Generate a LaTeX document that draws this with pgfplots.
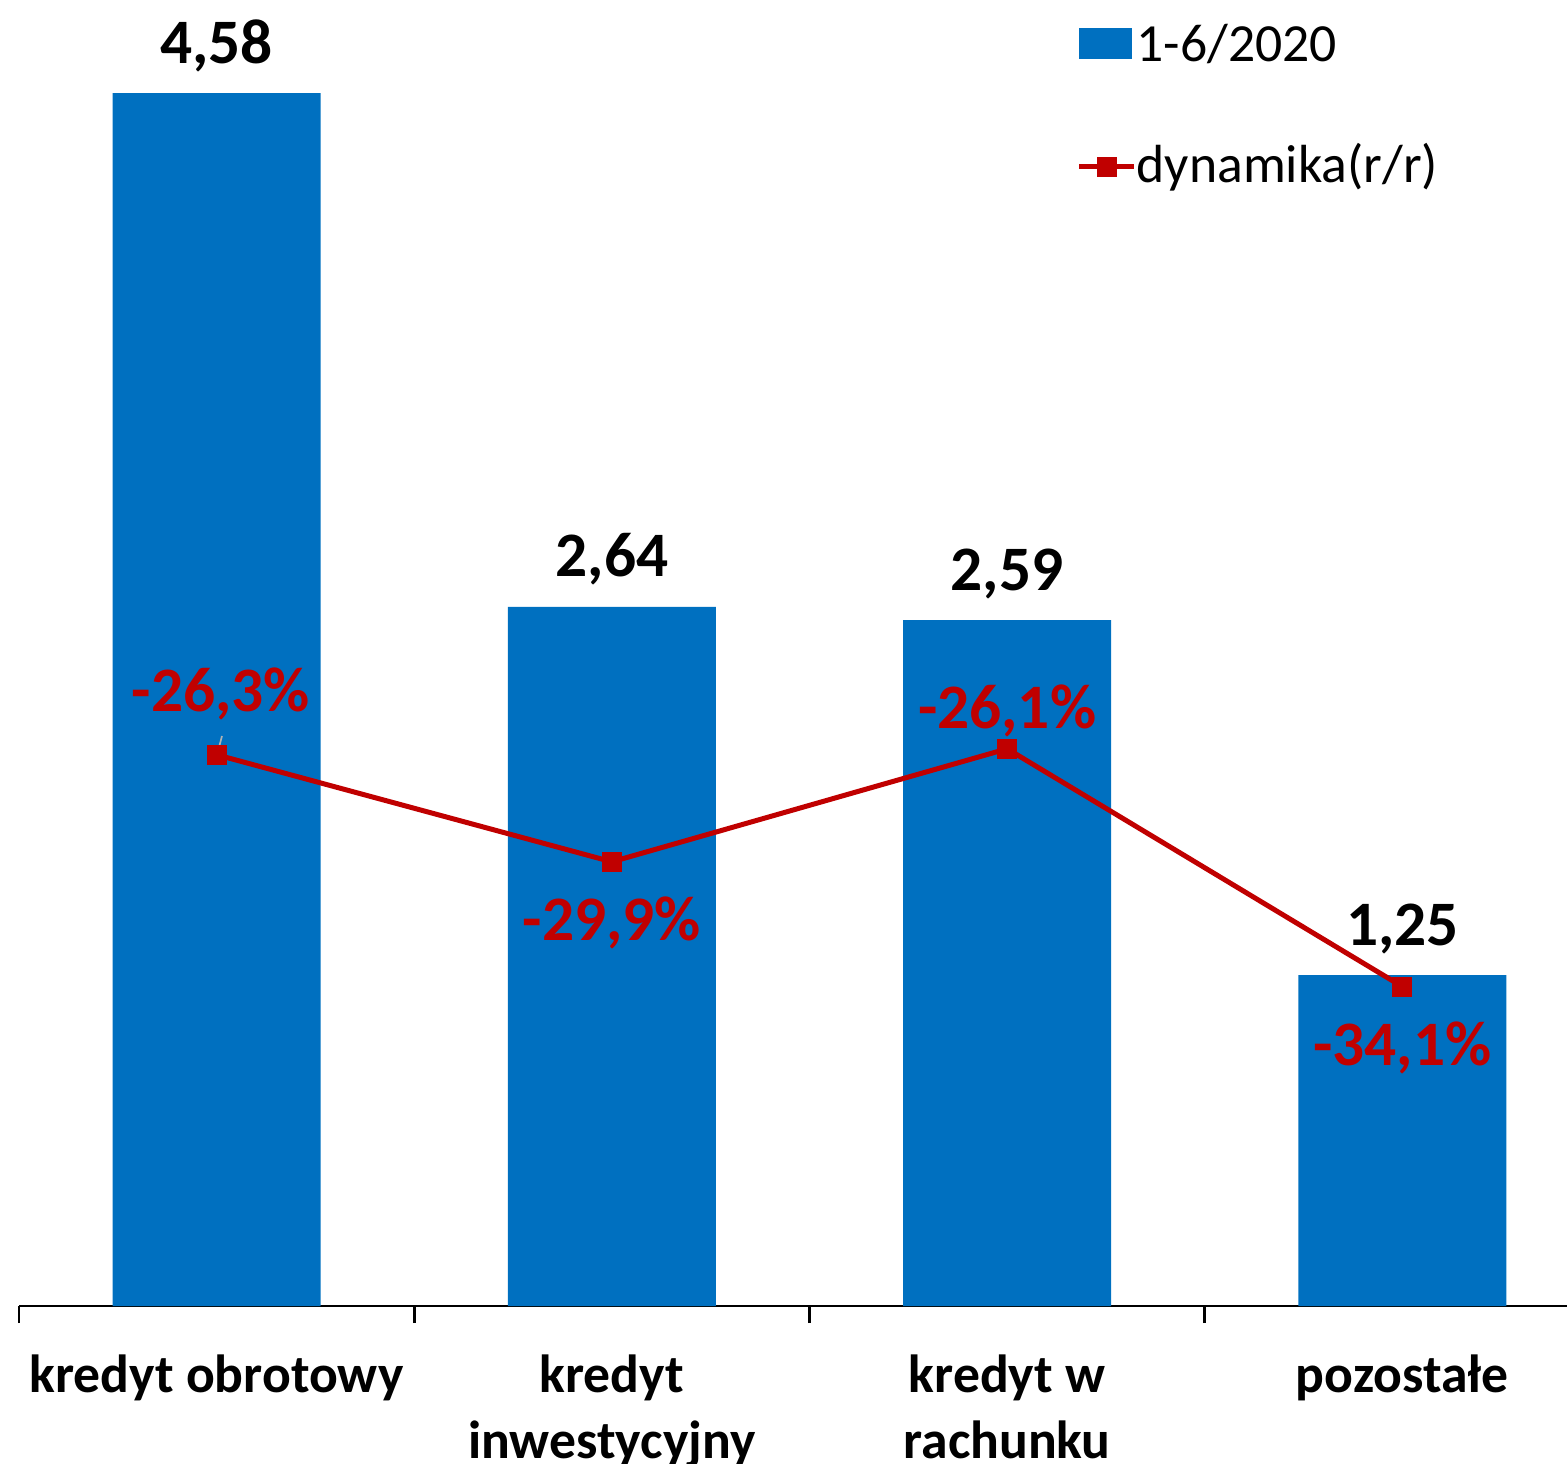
\documentclass[border=0pt]{standalone}
\usepackage{pgfplots}
\pgfplotsset{compat=1.18}
\usepackage{pgfplotstable}
\usepackage{fontspec}
\setmainfont{Carlito}
\definecolor{barblue}{HTML}{0070C0}
\definecolor{linered}{HTML}{C00000}

\pgfplotstableread{
x val
0 4.58
1 2.64
2 2.59
3 1.25
}\bardata
\pgfplotstableread{
x val dy dx
0 -26.3 12.9 1.3
1 -29.9 -23.7 0
2 -26.1 6.0 0
3 -34.1 -23.7 0
}\linedata

\pgfplotsset{
  common/.style={width=474.3pt, height=389.25pt, scale only axis, xmin=-0.5, xmax=3.5, clip=false},
  barlegend/.style={legend image code/.code={\fill[barblue] (0pt,-3.3pt) rectangle (15.6pt,5.7pt);}},
  linelegend/.style={legend image code/.code={\draw[##1, mark repeat=2, mark phase=2] plot coordinates {(0pt,0.6pt)(8.25pt,0.6pt)(16.5pt,0.6pt)};}},
}

\begin{document}
\begin{tikzpicture}
\begin{axis}[common, ymin=0, ymax=4.9,
  axis x line*=bottom, axis y line=none,
  axis line style={line width=0.8pt, black},
  xtick={0,1,2,3},
  xticklabels={kredyt obrotowy, {kredyt\\[1.5pt]inwestycyjny}, {kredyt w\\[1.5pt]rachunku}, pozostałe},
  major tick length=0pt, tick align=outside,
  xticklabel style={font=\fontsize{16.1}{18.3}\selectfont\bfseries, align=center, anchor=north, yshift=-14.3pt, inner sep=0pt},
  extra x ticks={-0.5,0.5,1.5,2.5}, extra x tick labels={},
  extra x tick style={major tick length=5.1pt, tick align=outside, tick style={draw=black, line width=0.8pt}},
  ybar, bar width=62.4pt,
  nodes near coords={\pgfmathprintnumber[assume math mode=true,use comma,fixed,fixed zerofill,precision=2]{\pgfplotspointmeta}},
  every node near coord/.append style={font=\fontsize{19}{23}\selectfont\bfseries, anchor=base, yshift=9pt, inner sep=0pt, text=black},
]
\addplot[fill=barblue, draw=none] table[x=x,y=val]{\bardata};
\end{axis}

\begin{axis}[common, ymin=-44.84, ymax=-1.2, hide axis,
  legend style={draw=none, fill=none, at={(axis description cs:0.6686,0.9903)}, anchor=north west,
    inner sep=0pt, row sep=20.8pt, font=\fontsize{16.1}{18.3}\selectfont,
    nodes={inner sep=0pt, text height=12pt, text depth=3.5pt},
    /tikz/every even column/.append style={column sep=1.8pt}},
  legend cell align=left,
]
\draw[gray!60, line width=0.5pt] (axis cs:0.001,-26.31) -- (axis cs:0.0135,-25.67);
\addlegendimage{barlegend}
\addplot[linered, line width=1.5pt, mark=square*, mark size=2.25pt, mark options={solid},
  point meta=y,
  visualization depends on={\thisrow{dy} \as \labeldy},
  visualization depends on={\thisrow{dx} \as \labeldx},
  nodes near coords={\pgfmathprintnumber[assume math mode=true,use comma,fixed,fixed zerofill,precision=1]{\pgfplotspointmeta}\%},
  every node near coord/.append style={font=\fontsize{19}{23}\selectfont\bfseries, text=linered, anchor=base, yshift=\labeldy pt, xshift=\labeldx pt, inner sep=0pt},
  linelegend
] table[x=x,y=val]{\linedata};
\legend{1-6/2020, dynamika(r/r)}
\end{axis}
\pgfresetboundingbox
\useasboundingbox (-5.7pt,-47.1pt) rectangle (464.4pt,391.8pt);
\end{tikzpicture}
\end{document}
